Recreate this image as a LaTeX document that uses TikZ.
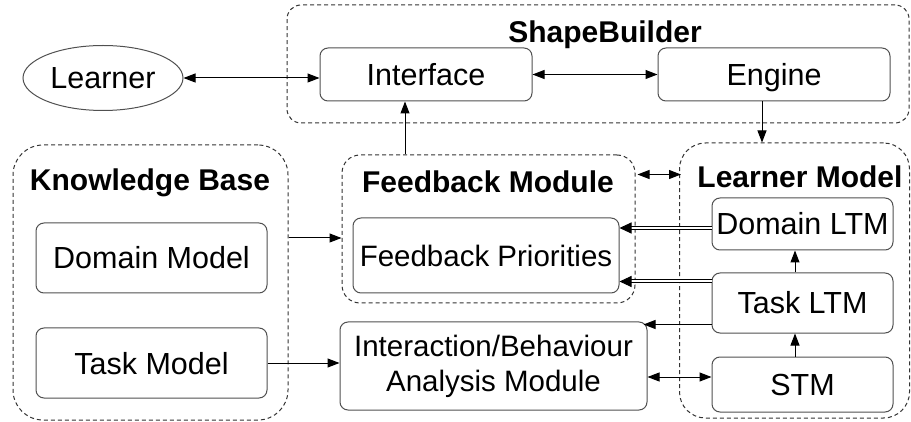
\documentclass[tikz,border=0pt]{standalone}
\usepackage{fontspec}
\setmainfont{Liberation Sans}
\usetikzlibrary{arrows.meta,shapes.geometric}
\definecolor{edge}{HTML}{505050}
\tikzset{
  box/.style={draw=edge,line width=1pt,rounded corners=8pt,inner sep=0pt,align=center,
    font=\fontsize{30.5}{35}\selectfont},
  one/.style={text height=22pt,text depth=0pt},
  group/.style={draw=black!80,line width=1pt,dash pattern=on 4pt off 3pt,inner sep=0pt},
  grouptitle/.style={font=\fontsize{30}{35}\selectfont\bfseries,inner sep=0pt,text height=22pt,text depth=0pt},
  arr/.style={line width=1pt,-{Triangle[length=12pt,width=9pt]}},
  darr/.style={line width=1pt,{Triangle[length=12pt,width=9pt]}-{Triangle[length=12pt,width=9pt]}},
  dbl/.style={double=white,double distance=2pt,line width=1pt,-{Triangle[length=12pt,width=11pt]}},
}
\begin{document}
\begin{tikzpicture}[x=1pt,y=-1pt]
\useasboundingbox (0,0) rectangle (911,422);
% groups
\node[group,rounded corners=14pt,minimum width=622pt,minimum height=118pt] (sb) at (598,64) {};
\node[group,rounded corners=30pt,minimum width=275pt,minimum height=275pt] (kb) at (150.5,282.5) {};
\node[group,rounded corners=18pt,minimum width=293pt,minimum height=148pt] (fm) at (488.5,229) {};
\node[group,rounded corners=26pt,minimum width=230pt,minimum height=275pt] (lm) at (794.5,280.5) {};
% titles
\node[grouptitle] (sbt) at (605,32) {ShapeBuilder};
\node[grouptitle] (kbt) at (150,180) {Knowledge Base};
\node[grouptitle] (fmt) at (488,182) {Feedback Module};
\node[grouptitle] (lmt) at (800,177) {Learner Model};
% boxes
\node[draw=edge,line width=1pt,ellipse,inner sep=0pt,minimum width=160pt,minimum height=65pt,one,
  font=\fontsize{30.5}{35}\selectfont] (learner) at (103,78) {Learner};
\node[box,one,minimum width=212pt,minimum height=53pt] (interface) at (426,74.5) {Interface};
\node[box,one,minimum width=232pt,minimum height=53pt] (engine) at (774,74.5) {Engine};
\node[box,one,minimum width=231pt,minimum height=70pt] (dm) at (151.5,258) {Domain Model};
\node[box,one,minimum width=231pt,minimum height=70pt] (tm) at (151.5,363) {Task Model};
\node[box,one,minimum width=266pt,minimum height=75pt,font=\fontsize{29.5}{35}\selectfont] (fp) at (486,255.5) {Feedback Priorities};
\node[box,minimum width=307pt,minimum height=88pt,font=\fontsize{29.5}{35}\selectfont] (iba) at (493.5,366) {Interaction/Behaviour\\Analysis Module};
\node[box,one,minimum width=181pt,minimum height=52pt] (dltm) at (802.5,224) {Domain LTM};
\node[box,one,minimum width=181pt,minimum height=60pt] (tltm) at (802.5,303) {Task LTM};
\node[box,one,minimum width=181pt,minimum height=55pt] (stm) at (802.5,384.5) {STM};
% connectors
\draw[darr] (learner.east) -- (learner.east -| interface.west);
\draw[darr] (interface.east) -- (engine.west);
\draw[arr] ([xshift=-21pt]interface.south |- fm.north) -- ([xshift=-21pt]interface.south);
\draw[arr] ([xshift=-12pt]engine.south) -- ([xshift=-12pt]engine.south |- lm.north);
\draw[arr] ([yshift=20pt]dm.east -| kb.east) -- ([yshift=20pt]dm.east -| fm.west);
\draw[arr] (tm.east) -- (tm.east -| iba.west);
\draw[darr] ([yshift=-20pt,xshift=2pt]fm.north east) -- ([yshift=-20pt,xshift=2pt]fm.north east -| lm.west);
\draw[dbl] ([yshift=-4pt]dltm.west) -- ([yshift=-4pt]dltm.west -| fp.east);
\draw[dbl] ([yshift=-9pt]tltm.north west) -- ([yshift=-9pt]tltm.north west -| fp.east);
\draw[arr] ([yshift=9pt]tltm.south west) -- ([yshift=9pt,xshift=-4pt]tltm.south west -| iba.east);
\draw[arr] ([xshift=-7.5pt]tltm.north) -- ([xshift=-7.5pt]tltm.north |- dltm.south);
\draw[arr] ([xshift=-7.5pt]stm.north) -- ([xshift=-7.5pt]stm.north |- tltm.south);
\draw[darr] ([yshift=7.5pt]stm.west -| iba.east) -- ([yshift=7.5pt]stm.west);
\end{tikzpicture}
\end{document}
